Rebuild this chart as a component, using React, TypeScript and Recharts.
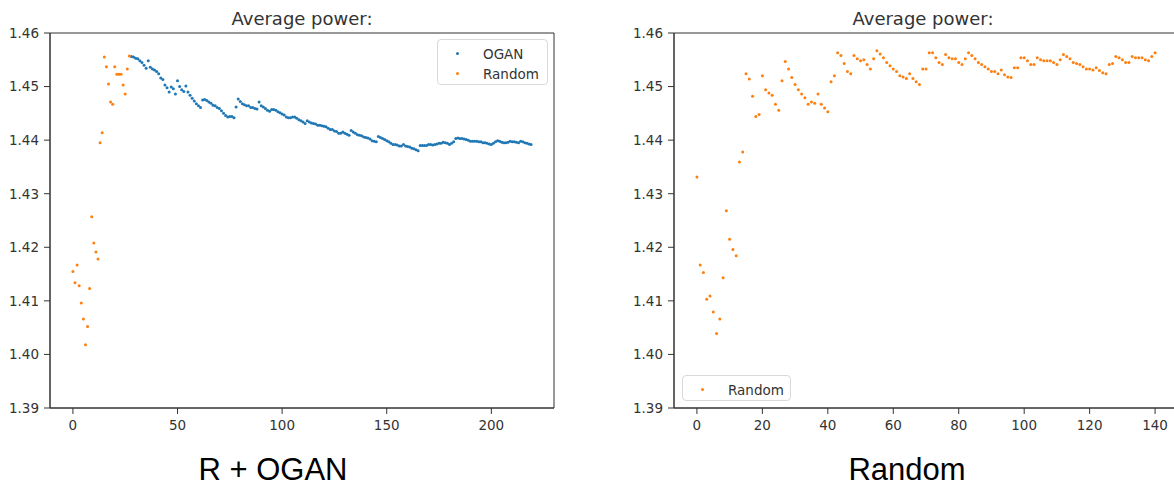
import React from 'react';
import { ScatterChart, Scatter, XAxis, YAxis, ReferenceArea, Legend } from 'recharts';

const BLUE = '#1f77b4';
const ORANGE = '#ff7f0e';
const INK = '#333';

const yTicks = [1.39, 1.4, 1.41, 1.42, 1.43, 1.44, 1.45, 1.46];
const leftXTicks = [0, 50, 100, 150, 200];
const rightXTicks = [0, 20, 40, 60, 80, 100, 120, 140];

// R + OGAN run: random warm-up (iterations 0..27)
const leftRandom = [
  1.4155, 1.4134, 1.4167, 1.4128, 1.4096, 1.4066, 1.4018, 1.4052, 1.4123, 1.4257,
  1.4208, 1.4191, 1.4178, 1.4395, 1.4414, 1.4555, 1.4537, 1.4505, 1.4471, 1.4467,
  1.4537, 1.4523, 1.4523, 1.4523, 1.4503, 1.4486, 1.4533, 1.4557,
];

// R + OGAN run: OGAN iterations (28..219)
const leftOgan = [
  1.4556, 1.4555, 1.4553, 1.4552, 1.4548, 1.4545, 1.454, 1.4534, 1.4548, 1.4536,
  1.4533, 1.4531, 1.4528, 1.4524, 1.4516, 1.4513, 1.4503, 1.4498, 1.449, 1.4499,
  1.4496, 1.4486, 1.4511, 1.45, 1.4494, 1.4491, 1.4501, 1.449, 1.4484, 1.4478,
  1.4473, 1.4468, 1.4464, 1.4461, 1.4475, 1.4476, 1.4474, 1.4471, 1.4469, 1.4465,
  1.4464, 1.4461, 1.4459, 1.4455, 1.445, 1.4446, 1.4443, 1.4444, 1.4444, 1.4442,
  1.4462, 1.4477, 1.4472, 1.4468, 1.4466, 1.4464, 1.4464, 1.4461, 1.4461, 1.4459,
  1.4458, 1.4471, 1.4464, 1.4462, 1.4459, 1.4456, 1.4454, 1.4457, 1.4457, 1.4456,
  1.4453, 1.4451, 1.4449, 1.4447, 1.4443, 1.4442, 1.4442, 1.4443, 1.4443, 1.4441,
  1.4438, 1.4436, 1.4434, 1.4431, 1.4436, 1.4434, 1.4432, 1.4431, 1.443, 1.4428,
  1.4428, 1.4427, 1.4426, 1.4425, 1.4422, 1.442, 1.442, 1.4417, 1.4416, 1.4413,
  1.4413, 1.4415, 1.4413, 1.4411, 1.4409, 1.4418, 1.4415, 1.4413, 1.441, 1.4409,
  1.4408, 1.4406, 1.4405, 1.4404, 1.4402, 1.4399, 1.4398, 1.4397, 1.4407, 1.4405,
  1.4403, 1.4401, 1.4399, 1.4397, 1.4394, 1.4392, 1.4392, 1.4391, 1.4389, 1.4389,
  1.4392, 1.4389, 1.4388, 1.4387, 1.4385, 1.4384, 1.4382, 1.438, 1.439, 1.439,
  1.439, 1.439, 1.4392, 1.4392, 1.4391, 1.4392, 1.4393, 1.4394, 1.4394, 1.4396,
  1.4395, 1.4394, 1.4392, 1.4394, 1.4397, 1.4403, 1.4404, 1.4403, 1.4403, 1.4402,
  1.4401, 1.44, 1.4398, 1.4398, 1.4398, 1.4398, 1.4397, 1.4397, 1.4395, 1.4395,
  1.4394, 1.4393, 1.4392, 1.4394, 1.4397, 1.4399, 1.4398, 1.4396, 1.4395, 1.4395,
  1.4396, 1.4398, 1.4397, 1.4397, 1.4396, 1.4395, 1.4398, 1.4397, 1.4395, 1.4394,
  1.4393, 1.4392,
];

// pure random run (iterations 0..140)
const rightRandom = [
  1.4331, 1.4167, 1.4153, 1.4103, 1.4109, 1.4079, 1.4039, 1.4066, 1.4143, 1.4268,
  1.4215, 1.4196, 1.4184, 1.4359, 1.4378, 1.4524, 1.4514, 1.4482, 1.4444, 1.4448,
  1.452, 1.4494, 1.4488, 1.4484, 1.4467, 1.4456, 1.4511, 1.4547, 1.4533, 1.4517,
  1.4504, 1.4494, 1.4486, 1.4479, 1.4467, 1.4471, 1.4469, 1.4486, 1.4467, 1.446,
  1.4453, 1.4509, 1.452, 1.4563, 1.4558, 1.4543, 1.4528, 1.4524, 1.4558, 1.4552,
  1.4548, 1.455, 1.4541, 1.4533, 1.4552, 1.4567, 1.4561, 1.4554, 1.4545, 1.4539,
  1.4533, 1.4528, 1.452, 1.4518, 1.4515, 1.4524, 1.4515, 1.4509, 1.4504, 1.4533,
  1.4533, 1.4563, 1.4563, 1.4554, 1.4545, 1.4541, 1.456, 1.4554, 1.4552, 1.4552,
  1.4545, 1.4541, 1.4552, 1.4563, 1.4558, 1.4552, 1.4545, 1.4541, 1.4537, 1.4533,
  1.4528, 1.4528, 1.4524, 1.4531, 1.4522, 1.4518, 1.4517, 1.4535, 1.4535, 1.4554,
  1.4554, 1.4548, 1.4541, 1.4541, 1.4554, 1.455, 1.4548, 1.4548, 1.4548, 1.4545,
  1.4541, 1.455, 1.456, 1.4556, 1.4552, 1.4545, 1.4543, 1.4541, 1.4537, 1.4533,
  1.4533, 1.4531, 1.4535, 1.453, 1.4526, 1.4524, 1.4541, 1.4543, 1.4556, 1.4554,
  1.455, 1.4545, 1.4545, 1.4556, 1.4554, 1.4554, 1.4554, 1.455, 1.4548, 1.4556,
  1.4563,
];

const toPoints = (values: number[], start: number) =>
  values.map((y, i) => ({ x: start + i, y }));

const dot = (color: string) => (props: any) =>
  <circle cx={props.cx} cy={props.cy} r={1.5} fill={color} />;

const tickStyle = { fill: INK, fontSize: 13.5, fontFamily: 'DejaVu Sans' };

const LegendBox = ({ items, width, height }: { items: { name: string; color: string }[]; width: number; height: number }) => (
  <div
    style={{
      position: 'relative',
      width,
      height,
      boxSizing: 'border-box',
      border: '1px solid #d9d9d9',
      borderRadius: 4,
      background: '#fff',
      fontFamily: 'DejaVu Sans',
      fontSize: 13.5,
      color: INK,
    }}
  >
    {items.map((it, i) => (
      <div key={it.name} style={{ position: 'absolute', left: 0, top: 4 + i * 20, height: 20, width: '100%' }}>
        <span
          style={{
            position: 'absolute',
            left: 18,
            top: 8,
            width: 3,
            height: 3,
            borderRadius: 2,
            background: it.color,
          }}
        />
        <span style={{ position: 'absolute', left: 45, top: 1, lineHeight: '18px' }}>{it.name}</span>
      </div>
    ))}
  </div>
);

export default function App() {
  return (
    <div style={{ position: 'absolute', left: 0, top: 0, width: 1174, height: 488, overflow: 'hidden', background: '#fff' }}>
      <div style={{ position: 'absolute', left: 0, top: 0 }}>
        <ScatterChart width={600} height={440} margin={{ top: 33, right: 46, bottom: 7, left: 5 }}>
          <XAxis
            type="number"
            dataKey="x"
            domain={[-10.95, 229.95]}
            ticks={leftXTicks}
            interval={0}
            height={25}
            tickSize={6}
            tickMargin={6}
            tick={tickStyle}
            axisLine={{ stroke: INK }}
            tickLine={{ stroke: INK }}
            allowDataOverflow
          />
          <YAxis
            type="number"
            dataKey="y"
            domain={[1.39, 1.46]}
            ticks={yTicks}
            interval={0}
            width={45}
            tickSize={6}
            tickMargin={5}
            tick={tickStyle}
            tickFormatter={(v: number) => v.toFixed(2)}
            axisLine={{ stroke: INK }}
            tickLine={{ stroke: INK }}
            allowDataOverflow
          />
          <ReferenceArea x1={-10.95} x2={229.95} y1={1.39} y2={1.46} fill="none" stroke={INK} strokeWidth={1} />
          <Scatter name="OGAN" data={toPoints(leftOgan, 28)} fill={BLUE} shape={dot(BLUE)} isAnimationActive={false} />
          <Scatter name="Random" data={toPoints(leftRandom, 0)} fill={ORANGE} shape={dot(ORANGE)} isAnimationActive={false} />
          <Legend
            layout="horizontal"
            verticalAlign="middle"
            align="center"
            wrapperStyle={{ left: 437, top: 39, width: 111, height: 46 }}
            content={() => (
              <LegendBox
                width={111}
                height={46}
                items={[
                  { name: 'OGAN', color: BLUE },
                  { name: 'Random', color: ORANGE },
                ]}
              />
            )}
          />
        </ScatterChart>
      </div>

      <div style={{ position: 'absolute', left: 600, top: 0 }}>
        <ScatterChart width={580} height={440} margin={{ top: 33, right: 2, bottom: 7, left: 29 }}>
          <XAxis
            type="number"
            dataKey="x"
            domain={[-7, 147]}
            ticks={rightXTicks}
            interval={0}
            height={25}
            tickSize={6}
            tickMargin={6}
            tick={tickStyle}
            axisLine={{ stroke: INK }}
            tickLine={{ stroke: INK }}
            allowDataOverflow
          />
          <YAxis
            type="number"
            dataKey="y"
            domain={[1.39, 1.46]}
            ticks={yTicks}
            interval={0}
            width={45}
            tickSize={6}
            tickMargin={5}
            tick={tickStyle}
            tickFormatter={(v: number) => v.toFixed(2)}
            axisLine={{ stroke: INK }}
            tickLine={{ stroke: INK }}
            allowDataOverflow
          />
          <ReferenceArea x1={-7} x2={147} y1={1.39} y2={1.46} fill="none" stroke={INK} strokeWidth={1} />
          <Scatter name="Random" data={toPoints(rightRandom, 0)} fill={ORANGE} shape={dot(ORANGE)} isAnimationActive={false} />
          <Legend
            layout="horizontal"
            verticalAlign="middle"
            align="center"
            wrapperStyle={{ left: 82, top: 375, width: 109, height: 26 }}
            content={() => (
              <LegendBox width={109} height={26} items={[{ name: 'Random', color: ORANGE }]} />
            )}
          />
        </ScatterChart>
      </div>

      <svg width={1174} height={488} style={{ position: 'absolute', left: 0, top: 0, pointerEvents: 'none' }}>
        <text x={302} y={25} textAnchor="middle" fontFamily="DejaVu Sans" fontSize={18} fill={INK}>
          Average power:
        </text>
        <text x={923} y={25} textAnchor="middle" fontFamily="DejaVu Sans" fontSize={18} fill={INK}>
          Average power:
        </text>
        <text x={273} y={480} textAnchor="middle" fontFamily="Liberation Sans, Arial" fontSize={31} fill="#000">
          R + OGAN
        </text>
        <text x={907} y={480} textAnchor="middle" fontFamily="Liberation Sans, Arial" fontSize={31} fill="#000">
          Random
        </text>
      </svg>
    </div>
  );
}
